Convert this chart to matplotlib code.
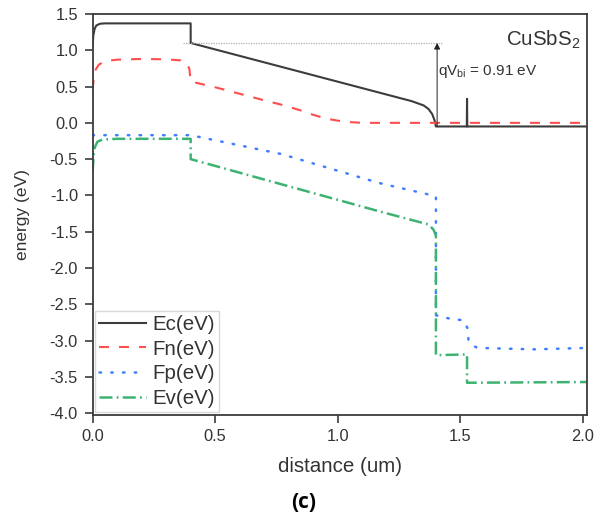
import matplotlib
matplotlib.use("Agg")
import matplotlib.pyplot as plt

plt.rcParams['font.family'] = ['Liberation Sans', 'DejaVu Sans']

# band diagram data (distance in um, energy in eV)
ec_x = [0.0, 0.003, 0.008, 0.015, 0.03, 0.05, 0.40, 0.40, 1.30, 1.35, 1.37, 1.385, 1.395, 1.40,
        1.526, 1.527, 1.528, 2.02]
ec_y = [1.05, 1.20, 1.29, 1.34, 1.365, 1.37, 1.37, 1.10, 0.30, 0.24, 0.19, 0.12, 0.03, -0.05,
        -0.05, 0.33, -0.05, -0.05]

fn_x = [0.0, 0.005, 0.012, 0.025, 0.05, 0.10, 0.20, 0.30, 0.36, 0.385, 0.395, 0.40,
        0.50, 0.60, 0.70, 0.77, 0.85, 0.90, 0.95, 1.00, 1.05, 1.10, 2.02]
fn_y = [0.45, 0.62, 0.73, 0.80, 0.85, 0.87, 0.88, 0.875, 0.86, 0.82, 0.74, 0.57,
        0.49, 0.40, 0.31, 0.25, 0.17, 0.11, 0.06, 0.03, 0.01, 0.0, 0.0]

fp_x = [0.0, 0.40, 0.77, 1.17, 1.40, 1.40, 1.46, 1.513, 1.529, 1.533, 1.545, 1.57, 1.80, 2.02]
fp_y = [-0.17, -0.17, -0.43, -0.83, -1.01, -2.65, -2.70, -2.72, -2.83, -3.00, -3.06, -3.10, -3.12, -3.10]

ev_x = [0.0, 0.004, 0.01, 0.02, 0.04, 0.10, 0.40, 0.40, 1.17, 1.37, 1.39, 1.40, 1.40,
        1.527, 1.527, 2.02]
ev_y = [-0.68, -0.45, -0.33, -0.26, -0.23, -0.22, -0.22, -0.50, -1.22, -1.40, -1.47, -1.55, -3.20,
        -3.19, -3.58, -3.57]

vbi_level = 1.10
vbi_text = 'qV$_{\\mathregular{bi}}$ = 0.91 eV'

dark = '#3c3c3c'
txt = '#333333'

fig = plt.figure(figsize=(6.05, 5.28), dpi=100)
ax = fig.add_axes([0.153, 0.2146, 0.818, 0.759])

ax.plot(ec_x, ec_y, color=dark, lw=1.5, label='Ec(eV)')
ax.plot(fn_x, fn_y, color='#ff4d4d', lw=1.5, dashes=(4.8, 4.8), label='Fn(eV)')
ax.plot(fp_x, fp_y, color='#3f7fff', lw=1.8, dashes=(0.6, 4.1), dash_capstyle='round',
        label='Fp(eV)')
ax.plot(ev_x, ev_y, color='#3cb371', lw=1.8, dashes=(5.2, 1.7, 0.7, 1.7), label='Ev(eV)')

# built-in potential marker
ax.plot([0.37, 1.43], [vbi_level, vbi_level], color='#b0b0b0', lw=0.9, ls=(0, (1, 1)))
ax.annotate('', xy=(1.405, vbi_level), xytext=(1.405, -0.05),
            arrowprops=dict(arrowstyle='-|>', color='#222222', lw=0.7,
                            mutation_scale=9, shrinkA=0, shrinkB=0))
ax.text(1.408, 0.71, vbi_text, fontsize=11, color=txt, va='center', ha='left')
ax.text(0.985, 0.965, 'CuSbS$_\\mathregular{2}$', transform=ax.transAxes,
        fontsize=14.8, color=txt, ha='right', va='top')

ax.set_xlim(0, 2.018)
ax.set_ylim(-4.02, 1.5)
ax.set_xticks([0.0, 0.5, 1.0, 1.5, 2.0])
ax.set_yticks([1.5, 1.0, 0.5, 0.0, -0.5, -1.0, -1.5, -2.0, -2.5, -3.0, -3.5, -4.0])
ax.xaxis.set_major_formatter(matplotlib.ticker.FormatStrFormatter('%.1f'))
ax.yaxis.set_major_formatter(matplotlib.ticker.FormatStrFormatter('%.1f'))
ax.tick_params(direction='out', length=6, width=1.2, color=dark, labelsize=11.8,
               labelcolor=txt)
ax.tick_params(axis='y', pad=4.5)
ax.tick_params(axis='x', pad=4)
for s in ax.spines.values():
    s.set_linewidth(1.3)
    s.set_color(dark)

ax.set_xlabel('distance (um)', fontsize=14.8, color=txt, labelpad=10)
ax.set_ylabel('energy (eV)', fontsize=12.5, color=txt, labelpad=14)

leg = ax.legend(loc='lower left', fontsize=14.8, frameon=True, fancybox=False,
                handlelength=2.3, handletextpad=0.3, borderpad=0.2, labelspacing=0.28,
                borderaxespad=0.12)
leg.get_frame().set_edgecolor('#cfcfcf')
leg.get_frame().set_linewidth(1.0)
for t in leg.get_texts():
    t.set_color(txt)

fig.text(0.502, 0.049, '(c)', fontsize=15, fontweight='bold', family='Open Sans',
         ha='center', va='center', color='black')

fig.savefig('out.png', dpi=100)
